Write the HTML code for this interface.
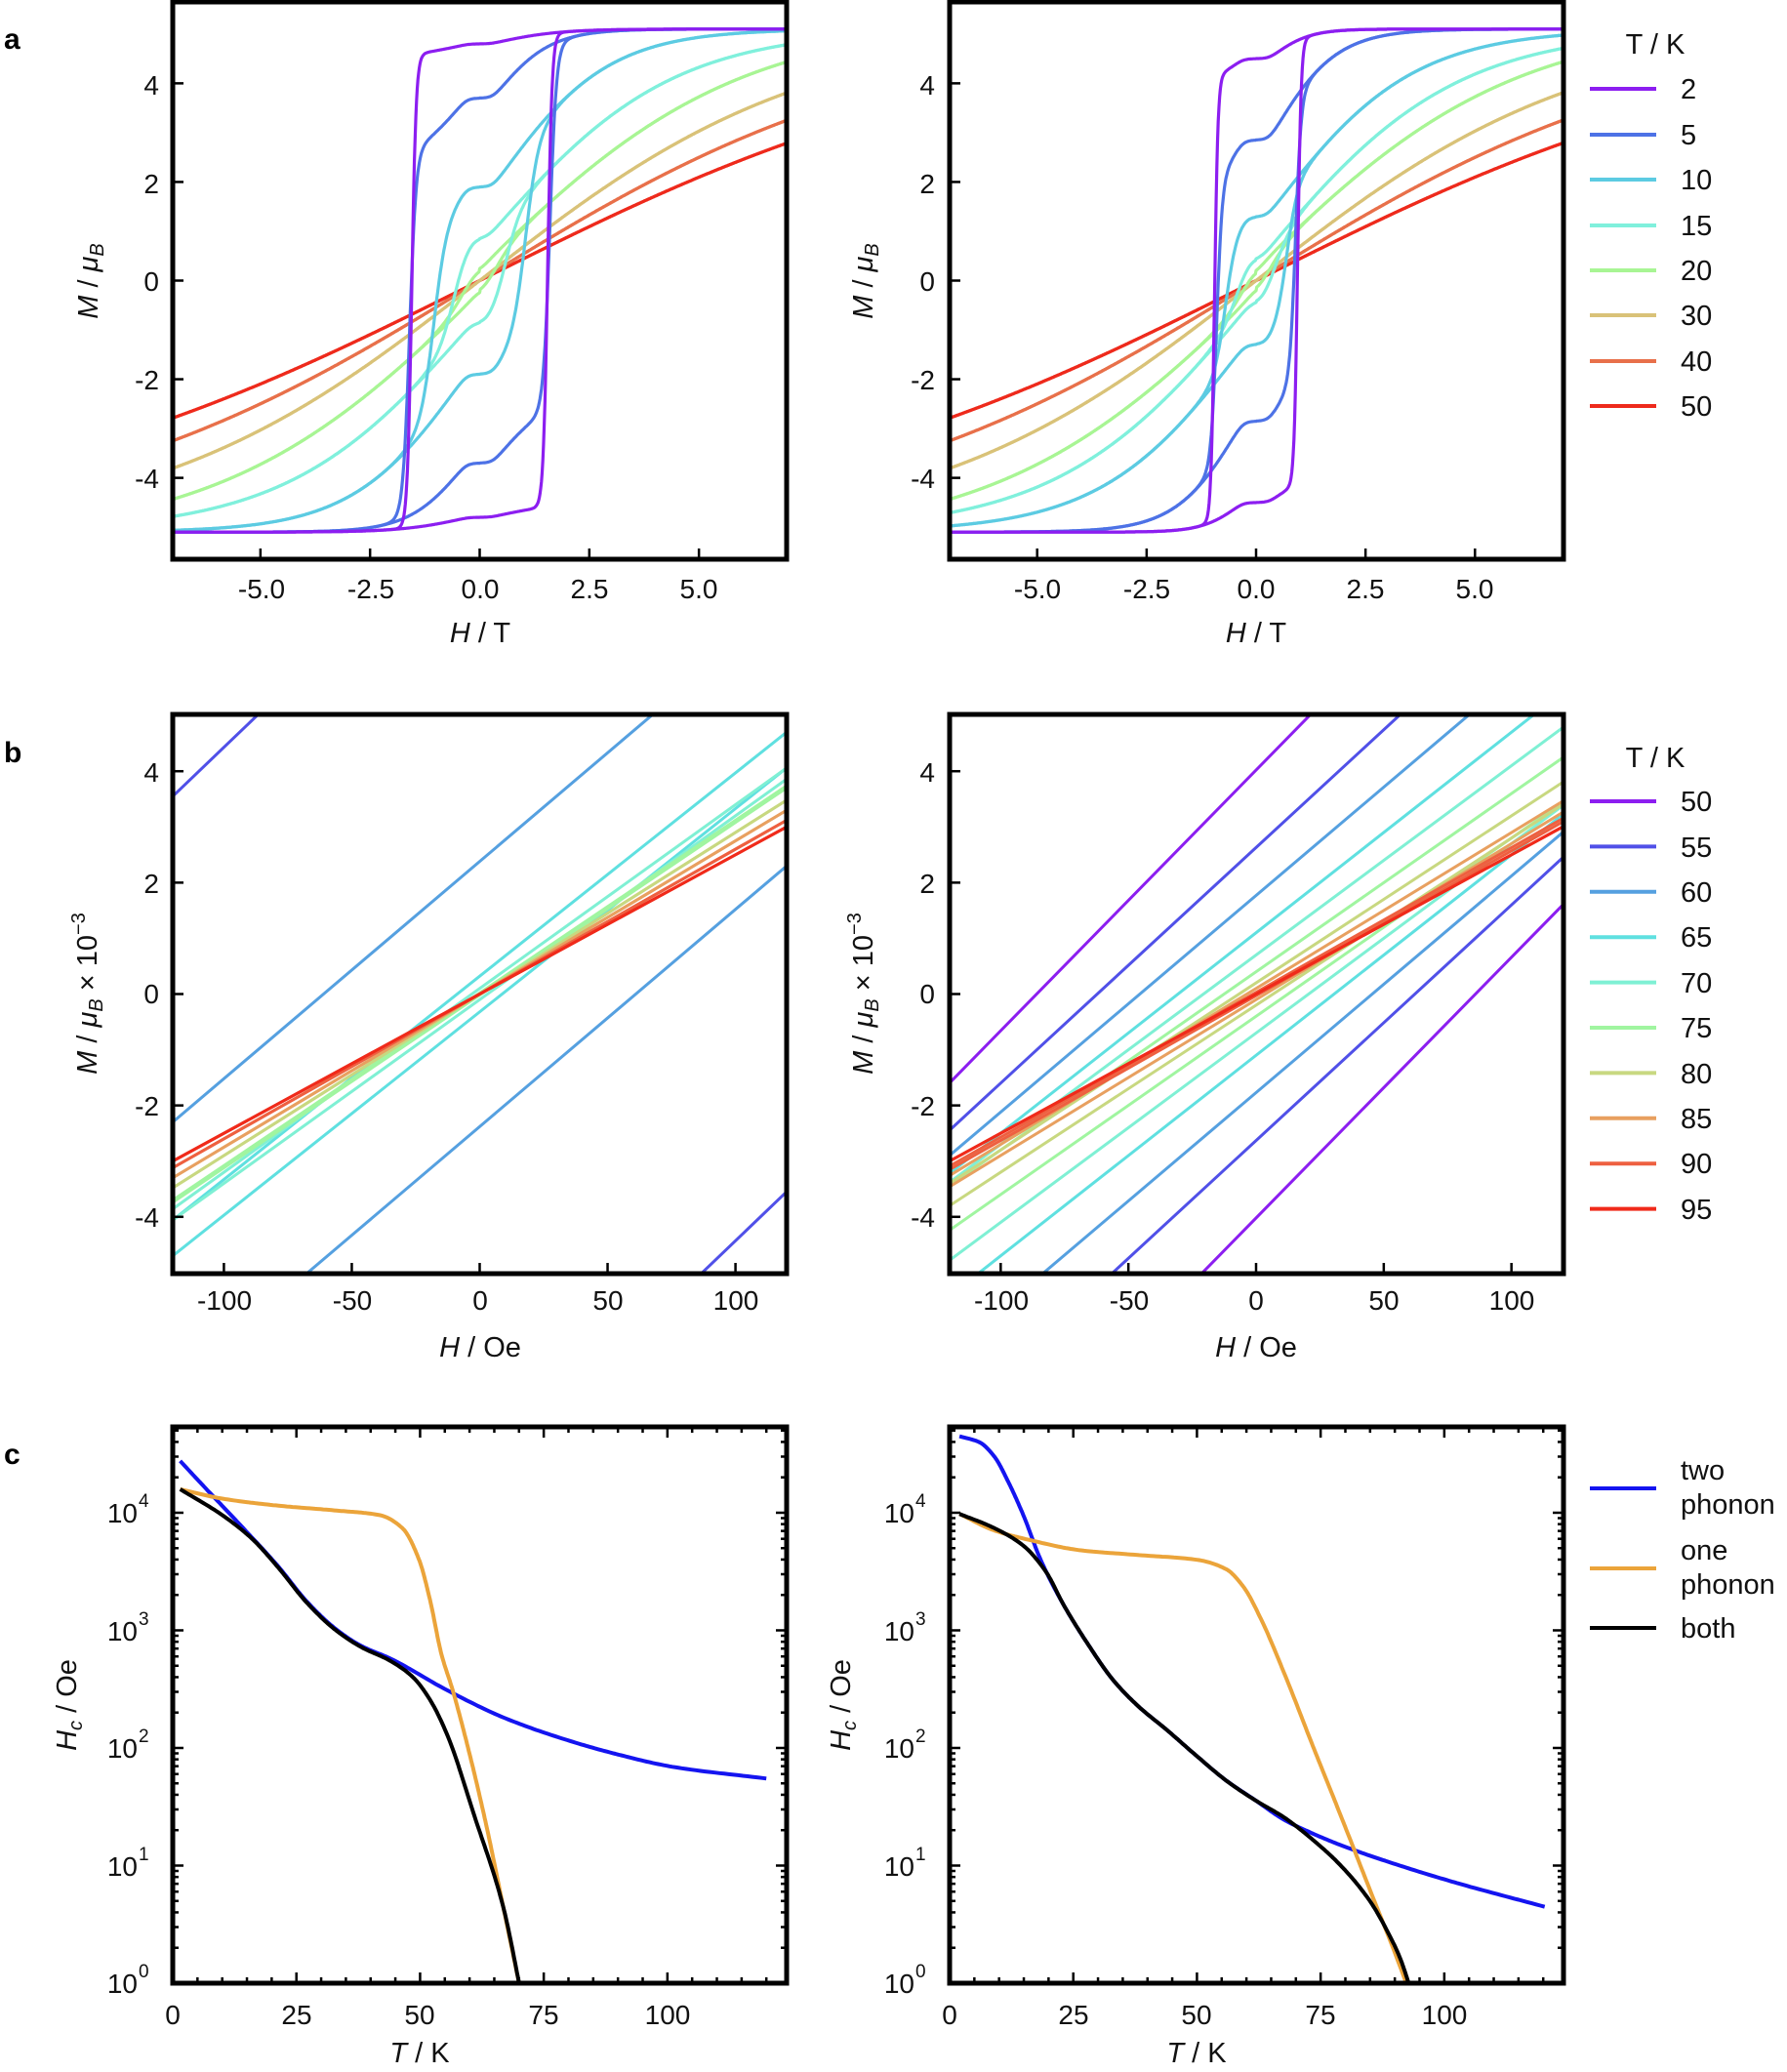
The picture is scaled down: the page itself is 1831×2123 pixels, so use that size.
<!DOCTYPE html>
<html><head><meta charset="utf-8"><style>
html,body{margin:0;padding:0;background:#fff;overflow:hidden;width:1831px;height:2123px;}
svg{display:block;font-family:"Liberation Sans",sans-serif;}
.t{font-size:28px;fill:#111;}
.lg{font-size:29px;fill:#111;}
.lab{font-size:29px;fill:#111;}
.pl{font-size:30px;font-weight:bold;fill:#000;}
</style></head><body>
<svg id="s" width="1831" height="2123" viewBox="0 0 1831 2123" xmlns="http://www.w3.org/2000/svg">
<defs>
<clipPath id="cA1"><rect x="177" y="2" width="629" height="571"/></clipPath>
<clipPath id="cA2"><rect x="973" y="2" width="629" height="571"/></clipPath>
<clipPath id="cB1"><rect x="177" y="732" width="629" height="573"/></clipPath>
<clipPath id="cB2"><rect x="973" y="732" width="629" height="573"/></clipPath>
<clipPath id="cC1"><rect x="177" y="1462" width="629" height="570"/></clipPath>
<clipPath id="cC2"><rect x="973" y="1462" width="629" height="570"/></clipPath>
</defs>
<g id="curves"></g>
<g id="ticks" stroke="#000" stroke-width="2.5"></g>
<g fill="none" stroke="#000" stroke-width="5">
<rect x="177" y="2" width="629" height="571"/>
<rect x="973" y="2" width="629" height="571"/>
<rect x="177" y="732" width="629" height="573"/>
<rect x="973" y="732" width="629" height="573"/>
<rect x="177" y="1462" width="629" height="570"/>
<rect x="973" y="1462" width="629" height="570"/>
</g>
<text class="pl" x="4" y="50">a</text>
<text class="pl" x="4" y="781">b</text>
<text class="pl" x="4" y="1500">c</text>
<g class="t" text-anchor="end">
<text x="163" y="97">4</text><text x="163" y="198">2</text><text x="163" y="298">0</text><text x="163" y="399">-2</text><text x="163" y="500">-4</text>
<text x="958" y="97">4</text><text x="958" y="198">2</text><text x="958" y="298">0</text><text x="958" y="399">-2</text><text x="958" y="500">-4</text>
</g>
<g class="t" text-anchor="middle">
<text x="268" y="613">-5.0</text><text x="380" y="613">-2.5</text><text x="492" y="613">0.0</text><text x="604" y="613">2.5</text><text x="716" y="613">5.0</text>
<text x="1063" y="613">-5.0</text><text x="1175" y="613">-2.5</text><text x="1287" y="613">0.0</text><text x="1399" y="613">2.5</text><text x="1511" y="613">5.0</text>
</g>
<g class="lab" text-anchor="middle">
<text x="492" y="658"><tspan font-style="italic">H</tspan> / T</text>
<text x="1287" y="658"><tspan font-style="italic">H</tspan> / T</text>
<text transform="translate(100,288) rotate(-90)"><tspan font-style="italic">M</tspan> / <tspan font-style="italic">μ</tspan><tspan font-style="italic" font-size="20" dy="6">B</tspan></text>
<text transform="translate(894,288) rotate(-90)"><tspan font-style="italic">M</tspan> / <tspan font-style="italic">μ</tspan><tspan font-style="italic" font-size="20" dy="6">B</tspan></text>
</g>
<g class="t" text-anchor="end">
<text x="163" y="801">4</text><text x="163" y="915">2</text><text x="163" y="1028">0</text><text x="163" y="1143">-2</text><text x="163" y="1257">-4</text>
<text x="958" y="801">4</text><text x="958" y="915">2</text><text x="958" y="1028">0</text><text x="958" y="1143">-2</text><text x="958" y="1257">-4</text>
</g>
<g class="t" text-anchor="middle">
<text x="230" y="1342">-100</text><text x="361" y="1342">-50</text><text x="492" y="1342">0</text><text x="623" y="1342">50</text><text x="754" y="1342">100</text>
<text x="1026" y="1342">-100</text><text x="1157" y="1342">-50</text><text x="1287" y="1342">0</text><text x="1418" y="1342">50</text><text x="1549" y="1342">100</text>
</g>
<g class="lab" text-anchor="middle">
<text x="492" y="1390"><tspan font-style="italic">H</tspan> / Oe</text>
<text x="1287" y="1390"><tspan font-style="italic">H</tspan> / Oe</text>
<text transform="translate(99,1018) rotate(-90)"><tspan font-style="italic">M</tspan> / <tspan font-style="italic">μ</tspan><tspan font-style="italic" font-size="20" dy="6">B</tspan><tspan dy="-6"> × 10</tspan><tspan font-size="20" dy="-12">−3</tspan></text>
<text transform="translate(894,1018) rotate(-90)"><tspan font-style="italic">M</tspan> / <tspan font-style="italic">μ</tspan><tspan font-style="italic" font-size="20" dy="6">B</tspan><tspan dy="-6"> × 10</tspan><tspan font-size="20" dy="-12">−3</tspan></text>
</g>
<g class="t" text-anchor="end">
<text x="141" y="2042">10</text><text x="141" y="1922">10</text><text x="141" y="1801">10</text><text x="141" y="1681">10</text><text x="141" y="1560">10</text>
<text x="937" y="2042">10</text><text x="937" y="1922">10</text><text x="937" y="1801">10</text><text x="937" y="1681">10</text><text x="937" y="1560">10</text>
</g>
<g font-size="19" fill="#111">
<text x="142" y="2026">0</text><text x="142" y="1906">1</text><text x="142" y="1785">2</text><text x="142" y="1665">3</text><text x="142" y="1544">4</text>
<text x="938" y="2026">0</text><text x="938" y="1906">1</text><text x="938" y="1785">2</text><text x="938" y="1665">3</text><text x="938" y="1544">4</text>
</g>
<g class="t" text-anchor="middle">
<text x="177" y="2074">0</text><text x="304" y="2074">25</text><text x="430" y="2074">50</text><text x="557" y="2074">75</text><text x="684" y="2074">100</text>
<text x="973" y="2074">0</text><text x="1100" y="2074">25</text><text x="1226" y="2074">50</text><text x="1353" y="2074">75</text><text x="1480" y="2074">100</text>
</g>
<g class="lab" text-anchor="middle">
<text x="430" y="2113"><tspan font-style="italic">T</tspan> / K</text>
<text x="1226" y="2113"><tspan font-style="italic">T</tspan> / K</text>
<text transform="translate(78,1747) rotate(-90)"><tspan font-style="italic">H</tspan><tspan font-style="italic" font-size="20" dy="6">c</tspan><tspan dy="-6"> / Oe</tspan></text>
<text transform="translate(871,1747) rotate(-90)"><tspan font-style="italic">H</tspan><tspan font-style="italic" font-size="20" dy="6">c</tspan><tspan dy="-6"> / Oe</tspan></text>
</g>
<g class="lg">
<text x="1696" y="55" text-anchor="middle">T / K</text>
<text x="1722" y="101">2</text><text x="1722" y="148">5</text><text x="1722" y="194">10</text><text x="1722" y="241">15</text>
<text x="1722" y="287">20</text><text x="1722" y="333">30</text><text x="1722" y="380">40</text><text x="1722" y="426">50</text>
<text x="1696" y="786" text-anchor="middle">T / K</text>
<text x="1722" y="831">50</text><text x="1722" y="878">55</text><text x="1722" y="924">60</text><text x="1722" y="970">65</text>
<text x="1722" y="1017">70</text><text x="1722" y="1063">75</text><text x="1722" y="1110">80</text><text x="1722" y="1156">85</text>
<text x="1722" y="1202">90</text><text x="1722" y="1249">95</text>
<text x="1722" y="1516">two</text><text x="1722" y="1551">phonon</text>
<text x="1722" y="1598">one</text><text x="1722" y="1633">phonon</text>
<text x="1722" y="1678">both</text>
</g>
<g id="leg" stroke-width="4"></g>
</svg>
<script>
(function(){
var NS="http://www.w3.org/2000/svg";
var cur=document.getElementById('curves'),tk=document.getElementById('ticks'),lg=document.getElementById('leg');
function el(p,tag,a){var e=document.createElementNS(NS,tag);for(var k in a)e.setAttribute(k,a[k]);p.appendChild(e);return e;}
function ax(x0,x1,y0,y1,xa,xb,ya,yb){return{x0:x0,x1:x1,y0:y0,y1:y1,X:function(v){return x0+(v-xa)/(xb-xa)*(x1-x0);},Y:function(v){return y1-(v-ya)/(yb-ya)*(y1-y0);}};}
function path(g,a,pts,col,w,clip){var d="";for(var i=0;i<pts.length;i++){d+=(i?"L":"M")+a.X(pts[i][0]).toFixed(1)+" "+a.Y(pts[i][1]).toFixed(1);}
 el(g,'path',{d:d,fill:'none',stroke:col,'stroke-width':w,'stroke-linejoin':'round','clip-path':'url(#'+clip+')'});}
var colA=['#8c1ef0','#4d72e6','#5ccbe2','#80f0dc','#a8f594','#d9c278','#e8704a','#ee2a1c'];
var parL=[[4.8,1.55,0.1,0.3,1.5,0.25],[3.7,1.6,0.15,1.4,1.3,0.3],[1.9,1.05,0.3,3.2,2.6,0.3],[0.9,0.6,0.35,4.2,4.2,0.2],[0.3,0.4,0.45,5.0,5.9,0.05],[0,0,1,5.2,7.5,0],[0,0,1,5.2,9.55,0],[0,0,1,5.2,11.7,0]];
var parR=[[4.5,0.95,0.08,0.6,0.9,0.3],[2.85,0.9,0.13,2.25,1.5,0.3],[1.3,0.7,0.25,3.8,3.3,0.25],[0.5,0.45,0.35,4.6,4.4,0.15],[0.3,0.3,0.45,5.0,5.9,0.05],[0,0,1,5.2,7.5,0],[0,0,1,5.2,9.55,0],[0,0,1,5.2,11.7,0]];
function th(x){return Math.tanh(x);}
function sp(x){var s=0.08;return s*Math.log(1+Math.exp(x/s));}
function drawA(a,par,clip){for(var k=par.length-1;k>=0;k--){var p=par[k];var dn=[],up=[];
 for(var i=0;i<=900;i++){var H=-7.2+14.4*i/900;var g=(p[5]>0)?(H>=0?1:-1)*th(sp(Math.abs(H)-p[5])/p[4]):th(H/p[4]);
 var m=p[0]*th((H+p[1])/p[2])+p[3]*g;dn.push([H,m]);up.push([-H,-m]);}
 path(cur,a,dn,colA[k],3.2,clip);path(cur,a,up,colA[k],3.2,clip);}}
var aL=ax(177,806,2,573,-7,7,-5.65,5.65),aR=ax(973,1601,2,573,-7,7,-5.65,5.65);
drawA(aL,parL,'cA1');drawA(aR,parR,'cA2');
var colB=['#8c1ef0','#5050e8','#55a0e0','#5fe0e0','#7ff0d4','#a0f5a0','#c8d880','#e8a060','#ee6040','#f02a1a'];
var bL=[[0.0468,40],[0.044,8.83],[0.039,2.38],[0.0365,0.32],[0.033,0.1],[0.031,0.02],[0.029,0],[0.0275,0],[0.026,0],[0.025,0]];
var bR=[[0.0468,4.02],[0.0423,2.63],[0.0389,1.77],[0.036,1.1],[0.034,0.7],[0.032,0.4],[0.030,0.2],[0.028,0.1],[0.026,0.03],[0.025,0]];
function drawB(a,par,clip){for(var k=0;k<par.length;k++){var s=par[k][0],o=par[k][1];
 path(cur,a,[[-130,-130*s+o],[130,130*s+o]],colB[k],3,clip);path(cur,a,[[-130,-130*s-o],[130,130*s-o]],colB[k],3,clip);}}
var bLa=ax(177,806,732,1305,-120,120,-5.02,5.02),bRa=ax(973,1601,732,1305,-120,120,-5.02,5.02);
drawB(bLa,bL,'cB1');drawB(bRa,bR,'cB2');
function spl(p){var n=p.length,d=[],m=[];for(var i=0;i<n-1;i++)d.push((p[i+1][1]-p[i][1])/(p[i+1][0]-p[i][0]));
 m[0]=d[0];m[n-1]=d[n-2];for(var i=1;i<n-1;i++){if(d[i-1]*d[i]<=0)m[i]=0;else{var h0=p[i][0]-p[i-1][0],h1=p[i+1][0]-p[i][0];var w1=2*h1+h0,w2=h1+2*h0;m[i]=(w1+w2)/(w1/d[i-1]+w2/d[i]);}}
 var out=[];for(var i=0;i<n-1;i++){var h=p[i+1][0]-p[i][0];for(var s=0;s<20;s++){var t=s/20,t2=t*t,t3=t2*t;
 var y=(2*t3-3*t2+1)*p[i][1]+(t3-2*t2+t)*h*m[i]+(-2*t3+3*t2)*p[i+1][1]+(t3-t2)*h*m[i+1];out.push([p[i][0]+t*h,y]);}}
 out.push(p[n-1]);return out;}
var cL=ax(177,806,1462,2032,0,124.1,0,4.73),cR=ax(973,1602,1462,2032,0,124.1,0,4.73);
var LB=[[1.5,4.44],[6.6,4.21],[14,3.88],[21.4,3.54],[27,3.25],[32.7,3.02],[38,2.87],[44,2.76],[55.5,2.49],[66.8,2.26],[78,2.09],[89.5,1.95],[101,1.84],[120,1.74]];
var LK=[[1.5,4.2],[10,3.98],[16,3.78],[21.4,3.53],[27,3.24],[32.7,3.01],[38,2.86],[44,2.74],[48.6,2.6],[52,2.41],[55.5,2.11],[61,1.42],[66.8,0.65],[70.5,-0.1]];
var LO=[[1.5,4.2],[10,4.12],[21.4,4.06],[32.7,4.02],[41.8,3.98],[46.4,3.87],[49.8,3.6],[52,3.26],[54.3,2.8],[56.6,2.49],[60,1.95],[63.4,1.34],[66.8,0.65],[70.5,-0.1]];
var RB=[[2,4.65],[6,4.6],[9,4.48],[12,4.25],[14.9,3.98],[18.4,3.6],[23,3.22],[28,2.88],[33,2.58],[38,2.36],[44,2.15],[50,1.93],[56,1.72],[62,1.55],[67.6,1.39],[73,1.28],[79.3,1.17],[91,1.0],[102.7,0.85],[120.3,0.65]];
var RK=[[2,3.99],[9,3.87],[14.9,3.72],[19.6,3.49],[23,3.22],[28,2.88],[33,2.58],[38,2.36],[44,2.15],[50,1.93],[56,1.72],[62,1.55],[67.6,1.41],[73.4,1.22],[79.3,0.99],[85.1,0.69],[89,0.4],[91,0.22],[93.2,-0.05]];
var RO=[[2,3.99],[9,3.85],[16,3.77],[26.6,3.68],[38.3,3.64],[50,3.6],[55.9,3.52],[59.4,3.37],[62.9,3.1],[67.6,2.64],[73.4,2.02],[79.3,1.4],[85.1,0.78],[91,0.15],[94,-0.2]];
path(cur,cL,spl(LB),'#1414f0',4,'cC1');path(cur,cL,spl(LO),'#eba43a',4,'cC1');path(cur,cL,spl(LK),'#000',4,'cC1');
path(cur,cR,spl(RB),'#1414f0',4,'cC2');path(cur,cR,spl(RO),'#eba43a',4,'cC2');path(cur,cR,spl(RK),'#000',4,'cC2');
function L(x1,y1,x2,y2){el(tk,'line',{x1:x1,y1:y1,x2:x2,y2:y2});}
[aL,aR].forEach(function(a){[-5,-2.5,0,2.5,5].forEach(function(v){var x=a.X(v);L(x,573,x,562);});[-4,-2,0,2,4].forEach(function(v){var y=a.Y(v);L(a.x0,y,a.x0+11,y);});});
[bLa,bRa].forEach(function(a){[-100,-50,0,50,100].forEach(function(v){var x=a.X(v);L(x,1305,x,1294);});[-4,-2,0,2,4].forEach(function(v){var y=a.Y(v);L(a.x0,y,a.x0+11,y);});});
[cL,cR].forEach(function(a){for(var T=0;T<=120;T+=5){var x=a.X(T);var len=(T%25==0)?11:6;L(x,2032,x,2032-len);L(x,1462,x,1462+len);}
 for(var d=0;d<5;d++)for(var m=1;m<10;m++){var lv=d+Math.log10(m);if(lv>4.73)continue;var y=a.Y(lv);var len=(m==1)?11:6;L(a.x0,y,a.x0+len,y);L(a.x1,y,a.x1-len,y);}});
function LL(y,c){el(lg,'line',{x1:1629,y1:y,x2:1697,y2:y,stroke:c});}
var ya=[91,138,184,231,277,323,370,416];for(var i=0;i<8;i++)LL(ya[i],colA[i]);
for(var i=0;i<10;i++)LL(821+46.4*i,colB[i]);
LL(1525,'#1414f0');LL(1607,'#eba43a');LL(1668,'#000');
})();
</script>
</body></html>
